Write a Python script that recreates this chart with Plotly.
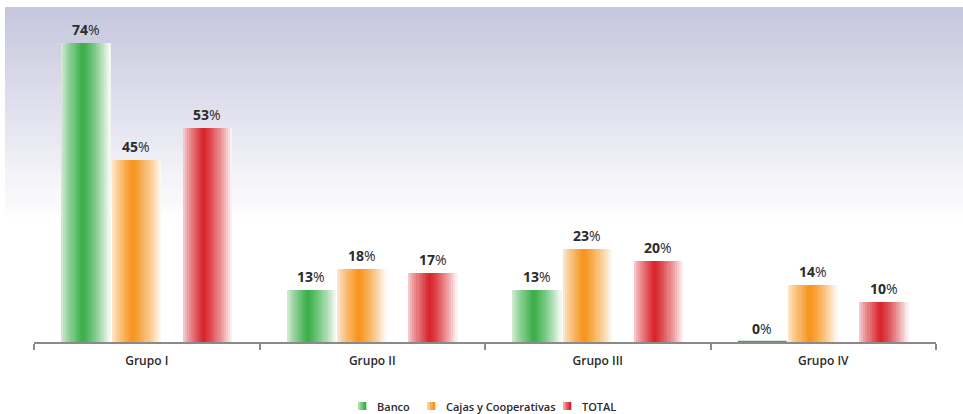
import plotly.graph_objects as go

# ---- data ----
grupos = ["Grupo I", "Grupo II", "Grupo III", "Grupo IV"]
series_names = ["Banco", "Cajas y Cooperativas", "TOTAL"]
banco = [74, 13, 13, 0]
cajas = [45, 18, 23, 14]
total = [53, 17, 20, 10]
series_values = [banco, cajas, total]
series_colors = ["#3aae49", "#f7941d", "#d7242a"]

# ---- geometry (in category units) ----
W, H = 963, 414
ML, MR, MT, MB = 34, 27, 7, 72
PW, PH = W - ML - MR, H - MT - MB
YMAX = 83
bar_w = 0.217
offsets = [-0.379, -0.155, 0.160]
K = 24  # slices per bar for the horizontal shading


def hex_rgb(h):
    h = h.lstrip("#")
    return tuple(int(h[i:i + 2], 16) for i in (0, 2, 4))


def mix(c, m):
    r, g, b = hex_rgb(c)
    return "rgb(%d,%d,%d)" % (round(255 + (r - 255) * m),
                              round(255 + (g - 255) * m),
                              round(255 + (b - 255) * m))


def shade(t):
    # light edges, saturated band a bit left of centre
    if t < 0.42:
        return 0.18 + 0.82 * (t / 0.42) ** 0.8
    return 1.0 - 0.97 * ((t - 0.42) / 0.58) ** 1.3


fig = go.Figure()
xs = list(range(len(grupos)))
annotations = []

for s, (name, vals, col) in enumerate(zip(series_names, series_values, series_colors)):
    sw = bar_w / K
    for i in range(K):
        t = (i + 0.5) / K
        fig.add_trace(go.Bar(
            x=xs, y=vals, width=sw * 1.15, offset=offsets[s] + i * sw,
            marker=dict(color=mix(col, shade(t)), line=dict(width=0)),
            showlegend=False, hoverinfo="skip",
        ))
    # value labels above each bar
    for x, v in zip(xs, vals):
        annotations.append(dict(
            x=x + offsets[s] + bar_w / 2, y=v, xref="x", yref="y",
            xanchor="center", yanchor="bottom", yshift=2, showarrow=False,
            text="<b>%d</b>%%" % v,
            font=dict(family="Open Sans, sans-serif", size=14, color="#2b2b2b"),
        ))
    # zero values still show a hairline on the axis
    zx = [x for x, v in zip(xs, vals) if v == 0]
    if zx:
        fig.add_trace(go.Scatter(
            x=[zx[0] + offsets[s], zx[0] + offsets[s] + bar_w], y=[0, 0],
            mode="lines", line=dict(color=col, width=2.5),
            showlegend=False, hoverinfo="skip", cliponaxis=False,
        ))


def px_x(p):
    return (p - ML) / PW


def px_y(p):
    return (H - MB - p) / PH


shapes = []
# lavender band fading to white behind the plot
top_c, n_strips = hex_rgb("#c6c6de"), 48
y_top, y_bot = 7, 224
for i in range(n_strips):
    f = i / (n_strips - 1)
    c = tuple(round(a + (255 - a) * f) for a in top_c)
    y0 = y_top + (y_bot - y_top) * i / n_strips
    y1 = y_top + (y_bot - y_top) * (i + 1) / n_strips
    shapes.append(dict(type="rect", xref="paper", yref="paper",
                       x0=px_x(5), x1=px_x(963), y0=px_y(y1 + 0.6), y1=px_y(y0),
                       fillcolor="rgb(%d,%d,%d)" % c, line=dict(width=0),
                       layer="below"))

# legend swatches and labels
legend_pos = [(362, 375), (431, 444), (567, 580)]
for (cx, tx), name, col in zip(legend_pos, series_names, series_colors):
    for j, m in enumerate([0.45, 0.75, 1.0]):
        shapes.append(dict(type="rect", xref="paper", yref="paper",
                           x0=px_x(cx - 4 + j * 8 / 3), x1=px_x(cx - 4 + (j + 1) * 8 / 3 + 0.3),
                           y0=px_y(410), y1=px_y(402),
                           fillcolor=mix(col, m), line=dict(width=0)))
    annotations.append(dict(xref="paper", yref="paper", x=px_x(tx), y=px_y(406),
                            xanchor="left", yanchor="middle", showarrow=False,
                            text=name,
                            font=dict(family="Open Sans, sans-serif", size=11,
                                      color="#2b2b2b", weight=600)))

fig.update_layout(
    width=W, height=H,
    margin=dict(l=ML, r=MR, t=MT, b=MB),
    paper_bgcolor="white", plot_bgcolor="rgba(0,0,0,0)",
    barmode="overlay", bargap=0,
    shapes=shapes, annotations=annotations,
    showlegend=False,
    xaxis=dict(range=[-0.5, 3.5], tickmode="array", tickvals=xs, ticktext=grupos,
               ticks="", showgrid=False, zeroline=False,
               showline=True, linecolor="#8a8a8a", linewidth=1.5,
               ticklabelstandoff=7,
               tickfont=dict(family="Open Sans, sans-serif", size=12,
                             color="#2b2b2b", weight=600),
               minor=dict(tick0=-0.5, dtick=1, ticks="outside", ticklen=6,
                          tickcolor="#8a8a8a", tickwidth=1.5, showgrid=False),
               fixedrange=True),
    yaxis=dict(range=[0, YMAX], visible=False, showgrid=False, zeroline=False,
               fixedrange=True),
)

fig.write_html("out.html")
